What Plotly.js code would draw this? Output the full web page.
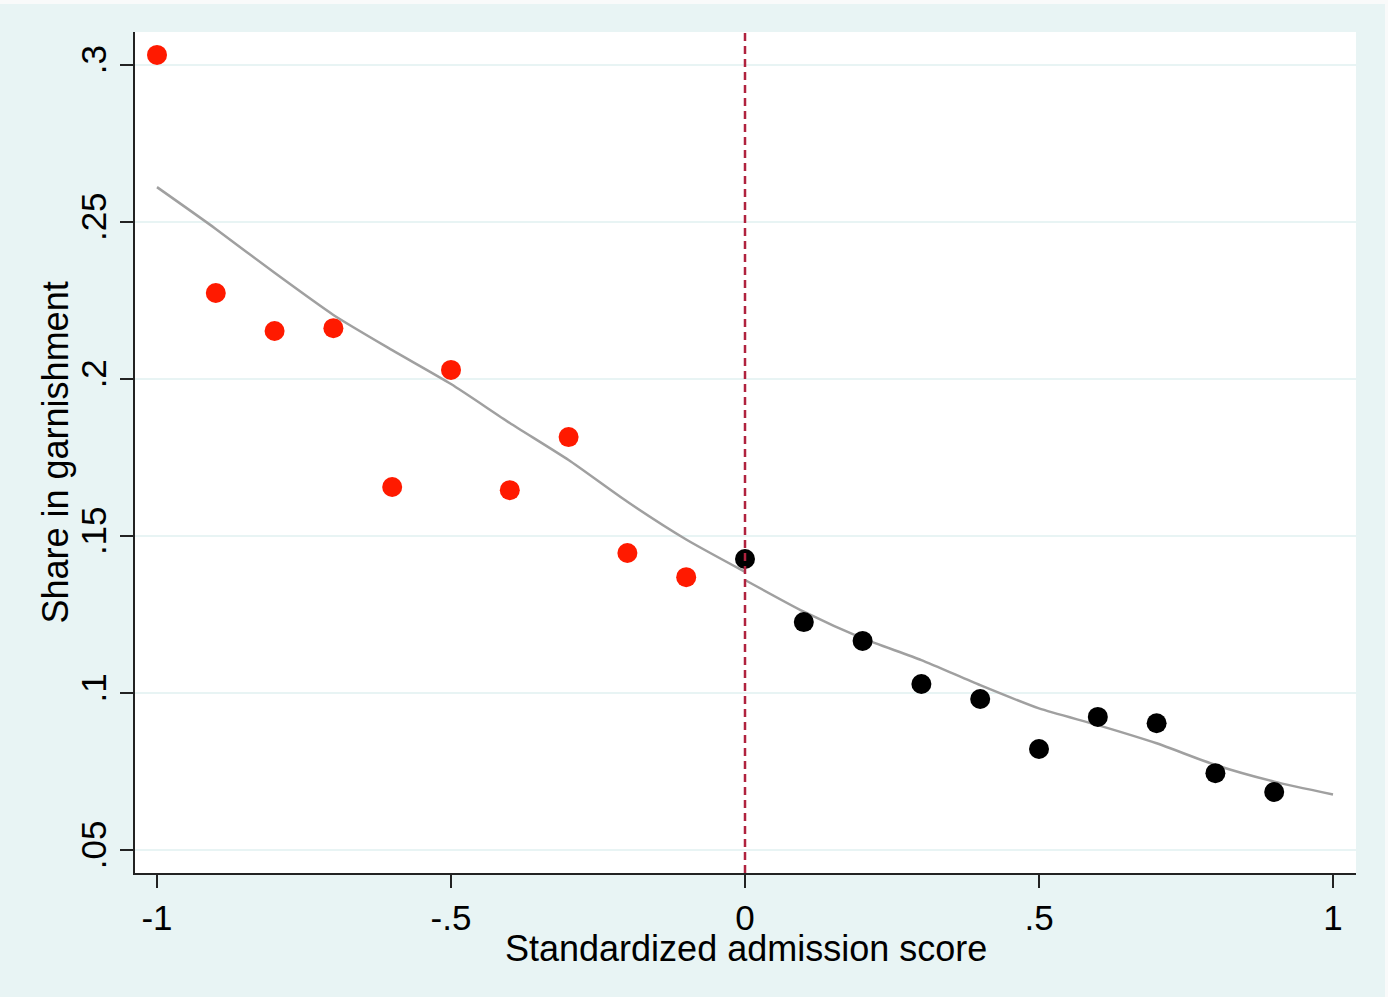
<!DOCTYPE html>
<html>
<head>
<meta charset="utf-8">
<script src="https://cdn.plot.ly/plotly-3.0.1.min.js"></script>
<style>
html,body{margin:0;padding:0;background:#f9fafa;}
#chart{position:absolute;left:0;top:4px;width:1385px;height:993px;}
</style>
</head>
<body>
<div id="chart"></div>
<script>
// Binned means below / above the cutoff
var xBelow = [-1.0, -0.9, -0.8, -0.7, -0.6, -0.5, -0.4, -0.3, -0.2, -0.1];
var yBelow = [0.3032, 0.2274, 0.2153, 0.2162, 0.1656, 0.2029, 0.1646, 0.1815, 0.1446, 0.1369];
var xAbove = [0.0, 0.1, 0.2, 0.3, 0.4, 0.5, 0.6, 0.7, 0.8, 0.9];
var yAbove = [0.1427, 0.1226, 0.1166, 0.1029, 0.0981, 0.0822, 0.0924, 0.0904, 0.0745, 0.0685];
// Fitted lines
var xFitLeft = [-1.0, -0.9, -0.8, -0.7, -0.6, -0.5, -0.4, -0.3, -0.2, -0.1, 0.0];
var yFitLeft = [0.2611, 0.2478, 0.2338, 0.2204, 0.2092, 0.1984, 0.1860, 0.1742, 0.1609, 0.1489, 0.1386];
var xFitRight = [0.0, 0.1, 0.2, 0.3, 0.4, 0.5, 0.6, 0.7, 0.8, 0.9, 1.0];
var yFitRight = [0.1360, 0.1259, 0.1174, 0.1105, 0.1025, 0.0951, 0.0898, 0.0840, 0.0771, 0.0718, 0.0677];
var xTickVals = [-1, -0.5, 0, 0.5, 1];
var xTickText = ['-1', '-.5', '0', '.5', '1'];
var yTickVals = [0.05, 0.1, 0.15, 0.2, 0.25, 0.3];
var yTickText = ['.05', '.1', '.15', '.2', '.25', '.3'];
var xTitle = 'Standardized admission score';
var yTitle = 'Share in garnishment';
var cutoff = 0;

var font = {family: '"Liberation Sans", Arial, sans-serif', size: 35, color: '#000'};
var titleFont = {family: '"Liberation Sans", Arial, sans-serif', size: 36, color: '#000'};

var traces = [
  {x: xFitLeft, y: yFitLeft, mode: 'lines', line: {color: '#a0a0a0', width: 2.5, shape: 'spline', smoothing: 0.6}, hoverinfo: 'skip'},
  {x: xFitRight, y: yFitRight, mode: 'lines', line: {color: '#a0a0a0', width: 2.5, shape: 'spline', smoothing: 0.6}, hoverinfo: 'skip'},
  {x: xBelow, y: yBelow, mode: 'markers', marker: {color: '#ff1a00', size: 20}},
  {x: xAbove, y: yAbove, mode: 'markers', marker: {color: '#000000', size: 20}}
];

var layout = {
  width: 1385, height: 993,
  paper_bgcolor: '#e8f4f4',
  plot_bgcolor: '#ffffff',
  showlegend: false,
  margin: {l: 135, r: 29, t: 28, b: 124},
  font: font,
  xaxis: {
    range: [-1.0374, 1.0391],
    tickvals: xTickVals, ticktext: xTickText,
    ticks: 'outside', ticklen: 13, tickwidth: 2, tickcolor: '#222',
    showline: true, linecolor: '#222', linewidth: 2,
    showgrid: false, zeroline: false,
    tickfont: font,
    automargin: false
  },
  yaxis: {
    range: [0.0427, 0.3105],
    tickvals: yTickVals, ticktext: yTickText,
    tickangle: -90,
    ticks: 'outside', ticklen: 13, tickwidth: 2, tickcolor: '#222',
    showline: true, linecolor: '#222', linewidth: 2,
    showgrid: true, gridcolor: '#e8f4f4', gridwidth: 2,
    zeroline: false,
    tickfont: font,
    automargin: false
  },
  annotations: [
    {text: xTitle, xref: 'paper', yref: 'paper', x: 0.5, y: -0.0892, xanchor: 'center', yanchor: 'middle', showarrow: false, font: titleFont},
    {text: yTitle, xref: 'paper', yref: 'paper', x: -0.0655, y: 0.5, xanchor: 'center', yanchor: 'middle', textangle: -90, showarrow: false, font: titleFont}
  ],
  shapes: [{
    type: 'line', xref: 'x', yref: 'paper', x0: cutoff, x1: cutoff, y0: 0, y1: 1,
    line: {color: '#b0223e', width: 2.5, dash: '8px,5px'}
  }]
};

Plotly.newPlot('chart', traces, layout, {displayModeBar: false, staticPlot: true});
</script>
</body>
</html>
